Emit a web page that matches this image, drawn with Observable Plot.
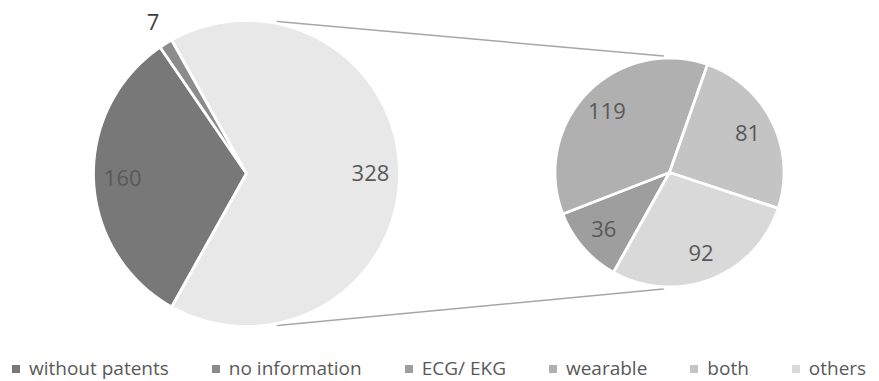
<!DOCTYPE html>
<html><head><meta charset="utf-8">
<script src="https://cdn.jsdelivr.net/npm/d3@7"></script>
<script src="https://cdn.jsdelivr.net/npm/@observablehq/plot@0.6"></script>
<style>
body{margin:0;background:#fff;font-family:"Open Sans",sans-serif;overflow:hidden}
#legend{display:flex;gap:43px;padding-left:12px;line-height:normal;margin-top:10px;font-size:19px;color:#595959;white-space:nowrap}
#legend .item{display:flex;align-items:center}
#legend .sw{width:8px;height:8px;margin-right:9px;margin-top:1px}
</style></head><body><div id="chart"></div><div id="legend"></div><script>
// ---- data ----
const categories = ["without patents", "no information", "ECG/ EKG", "wearable", "both", "others"];
const categoryColors = ["#787878", "#8c8c8c", "#9e9e9e", "#b0b0b0", "#c4c4c4", "#d9d9d9"];
const aggregateLabel = "Other";
const aggregateColor = "#e8e8e8";
const mainCategories = ["without patents", "no information", aggregateLabel];
const mainValues = [160, 7, 328];
const detailCategories = ["ECG/ EKG", "wearable", "both", "others"];
const detailValues = [36, 119, 81, 92];

// ---- layout ----
const W = 879, H = 345;
const main = {cx: 246, cy: 173, r: 153};
const detail = {cx: 669, cy: 172, r: 114.5};

const total = d3.sum(mainValues);
const aggregateShare = mainValues[2] / total;
const start = Math.PI / 2 + Math.PI * aggregateShare;

function slices(cats, vals, geo, tag) {
  const arcs = d3.pie().sort(null).value(d => d.value).startAngle(start).endAngle(start + 2 * Math.PI)(
    cats.map((c, i) => ({category: c, value: vals[i]})));
  const sum = d3.sum(vals);
  const pts = [], labels = [];
  arcs.forEach((a, i) => {
    const key = tag + i;
    pts.push({key, category: a.data.category, x: geo.cx, y: geo.cy});
    const n = Math.max(2, Math.ceil((a.endAngle - a.startAngle) / 0.01));
    for (let k = 0; k <= n; k++) {
      const t = a.startAngle + (a.endAngle - a.startAngle) * k / n;
      pts.push({key, category: a.data.category, x: geo.cx + geo.r * Math.sin(t), y: geo.cy - geo.r * Math.cos(t)});
    }
    const mid = (a.startAngle + a.endAngle) / 2;
    const outside = a.data.value / sum < 0.03;
    const lr = outside ? geo.r * 1.16 : geo.r * (tag === "m" ? 0.81 : 0.76);
    labels.push({text: String(a.data.value), outside, x: geo.cx + lr * Math.sin(mid), y: geo.cy - lr * Math.cos(mid)});
  });
  return {pts, labels};
}
const m = slices(mainCategories, mainValues, main, "m");
const d = slices(detailCategories, detailValues, detail, "d");
const pts = [...m.pts, ...d.pts];
const labels = [...m.labels, ...d.labels];

const ca = 0.2;
const connectors = [
  {k: "top", x: main.cx + (main.r + 2) * Math.sin(ca), y: main.cy - (main.r + 2) * Math.cos(ca)},
  {k: "top", x: detail.cx - 6, y: detail.cy - (detail.r + 2)},
  {k: "bot", x: main.cx + (main.r + 2) * Math.sin(ca), y: main.cy + (main.r + 2) * Math.cos(ca)},
  {k: "bot", x: detail.cx - 6, y: detail.cy + (detail.r + 2)}
];

const plot = Plot.plot({
  width: W, height: H, margin: 0,
  x: {domain: [0, W], range: [0, W], axis: null},
  y: {domain: [0, H], range: [0, H], axis: null},
  color: {domain: [...categories, aggregateLabel], range: [...categoryColors, aggregateColor]},
  marks: [
    Plot.line(connectors, {x: "x", y: "y", z: "k", stroke: "#a6a6a6", strokeWidth: 1.5}),
    Plot.line(pts, {x: "x", y: "y", z: "key", fill: "category", stroke: "white", strokeWidth: 2.8, strokeLinejoin: "round", curve: "linear-closed"}),
    Plot.text(labels.filter(l => !l.outside), {x: "x", y: "y", text: "text", fontSize: 22, fill: "#595959", fontFamily: "Open Sans"}),
    Plot.text(labels.filter(l => l.outside), {x: "x", y: "y", text: "text", fontSize: 22, fill: "#404040", fontFamily: "Open Sans"})
  ]
});
document.getElementById("chart").append(plot);

const leg = document.getElementById("legend");
categories.forEach((c, i) => {
  const it = document.createElement("div"); it.className = "item";
  const sw = document.createElement("span"); sw.className = "sw"; sw.style.background = categoryColors[i];
  const tx = document.createElement("span"); tx.textContent = c;
  it.append(sw, tx); leg.append(it);
});
</script></body></html>
